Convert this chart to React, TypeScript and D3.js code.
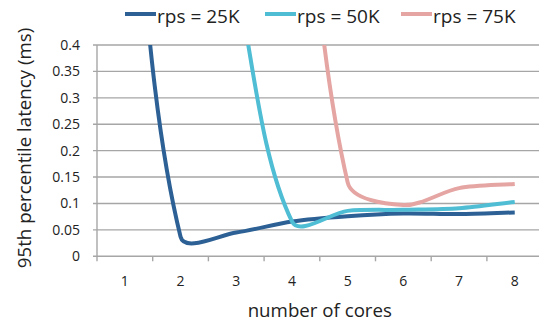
import React from 'react'
import * as d3 from 'd3'

const cores = [1, 2, 3, 4, 5, 6, 7, 8]
const rps25 = [0.9, 0.037, 0.045, 0.066, 0.076, 0.081, 0.08, 0.083]
const rps50 = [null, null, 0.52, 0.066, 0.086, 0.088, 0.091, 0.103]
const rps75 = [null, null, null, 1.0, 0.14, 0.097, 0.129, 0.137]
const yTicks = [0, 0.05, 0.1, 0.15, 0.2, 0.25, 0.3, 0.35, 0.4]

const series = [
  { name: 'rps = 25K', values: rps25, color: '#2d6195', lx: 125 },
  { name: 'rps = 50K', values: rps50, color: '#4fbdd4', lx: 265 },
  { name: 'rps = 75K', values: rps75, color: '#e5a5a3', lx: 401 },
]

const W = 539
const H = 324
const margin = { top: 45, left: 97 }
const band = 55.7
const plotW = band * cores.length
const plotH = 211.3
const font = "'Open Sans', sans-serif"
const grid = '#a6a6a6'

// spreadsheet-style smoothing: tangent along neighbours, handle length from segment length
const smooth = (context: any) => {
  let pts: [number, number][] = []
  const K = 0.3
  return {
    areaStart() {},
    areaEnd() {},
    lineStart() {
      pts = []
    },
    point(x: number, y: number) {
      pts.push([+x, +y])
    },
    lineEnd() {
      const n = pts.length
      if (!n) return
      context.moveTo(pts[0][0], pts[0][1])
      const tan = pts.map((_, i) => {
        const a = pts[Math.max(0, i - 1)]
        const b = pts[Math.min(n - 1, i + 1)]
        const dx = b[0] - a[0]
        const dy = b[1] - a[1]
        const l = Math.hypot(dx, dy) || 1
        return [dx / l, dy / l]
      })
      for (let i = 0; i < n - 1; i++) {
        const p = pts[i]
        const q = pts[i + 1]
        const d = Math.hypot(q[0] - p[0], q[1] - p[1]) * K
        context.bezierCurveTo(
          p[0] + tan[i][0] * d,
          p[1] + tan[i][1] * d,
          q[0] - tan[i + 1][0] * d,
          q[1] - tan[i + 1][1] * d,
          q[0],
          q[1]
        )
      }
    },
  }
}

export default function App() {
  const x = d3
    .scaleBand<number>()
    .domain(cores)
    .range([margin.left, margin.left + plotW])
  const y = d3
    .scaleLinear()
    .domain([0, 0.4])
    .range([margin.top + plotH, margin.top])

  const line = d3
    .line<number | null>()
    .defined((d) => d != null)
    .x((_, i) => x(cores[i])! + x.bandwidth() / 2)
    .y((d) => y(d as number))
    .curve(smooth as any)

  const fmt = (v: number) => String(+v.toFixed(2))
  const bottom = y(0)

  return (
    <svg width={W} height={H} style={{ position: 'absolute', left: 0, top: 0 }} fontFamily={font}>
      <defs>
        <clipPath id="plot">
          <rect x={margin.left} y={margin.top} width={plotW} height={plotH + 10} />
        </clipPath>
      </defs>

      {/* gridlines */}
      {yTicks.map((t) => (
        <line key={t} x1={margin.left - 4} x2={margin.left + plotW} y1={y(t)} y2={y(t)} stroke={grid} strokeWidth={1.4} />
      ))}
      <line x1={margin.left} x2={margin.left} y1={margin.top} y2={bottom} stroke={grid} strokeWidth={1.4} />

      {/* x ticks between categories */}
      {d3.range(cores.length + 1).map((i) => (
        <line
          key={i}
          x1={margin.left + i * band}
          x2={margin.left + i * band}
          y1={bottom}
          y2={bottom + 5}
          stroke={grid}
          strokeWidth={1.4}
        />
      ))}

      {/* y labels */}
      {yTicks.map((t) => (
        <text key={t} x={80} y={y(t)} dy={4.9} textAnchor="end" fontSize={14} fill="#222">
          {fmt(t)}
        </text>
      ))}

      {/* x labels */}
      {cores.map((c) => (
        <text key={c} x={x(c)! + x.bandwidth() / 2} y={286} textAnchor="middle" fontSize={14} fill="#222">
          {c}
        </text>
      ))}

      <g clipPath="url(#plot)">
        {series.map((s) => (
          <path key={s.name} d={line(s.values) || ''} fill="none" stroke={s.color} strokeWidth={4} strokeLinejoin="round" />
        ))}
      </g>

      {/* legend */}
      {series.map((s) => (
        <g key={s.name}>
          <line x1={s.lx} x2={s.lx + 31} y1={14} y2={14} stroke={s.color} strokeWidth={4} />
          <text x={s.lx + 32} y={22.5} fontSize={19} fill="#222">
            {s.name}
          </text>
        </g>
      ))}

      <text x={margin.left + plotW / 2} y={317} textAnchor="middle" fontSize={18.7} fill="#222">
        number of cores
      </text>
      <text transform="translate(31,148) rotate(-90)" textAnchor="middle" fontSize={18.7} fill="#222">
        95th percentile latency (ms)
      </text>
    </svg>
  )
}
